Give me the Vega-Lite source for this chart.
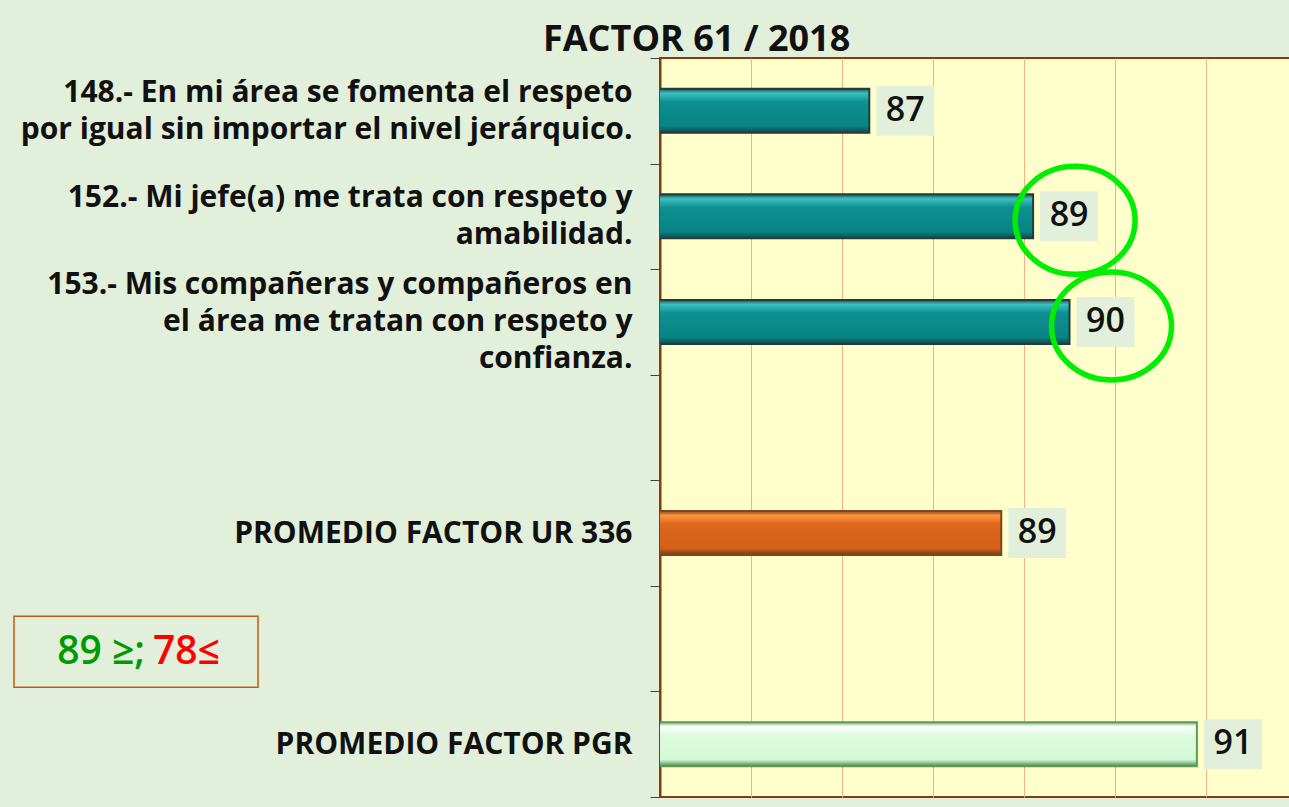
{
  "$schema": "https://vega.github.io/schema/vega-lite/v6.json",
  "width": 637,
  "height": 739,
  "autosize": {"type": "none"},
  "padding": {"left": 660, "top": 58, "right": 0, "bottom": 10},
  "background": "#e2efda",
  "title": {"text": "FACTOR 61 / 2018", "anchor": "start", "frame": "group", "dx": -117, "offset": -16, "fontSize": 36, "font": "Open Sans", "fontWeight": "bold", "color": "#111111"},
  "config": {"view": {"fill": "#ffffcc", "stroke": "#843c0c", "strokeWidth": 2}, "font": "Open Sans"},
  "data": {"values": [
    {"item": "148.- En mi área se fomenta el respeto|por igual sin importar el nivel jerárquico.", "value": 87.3, "group": "q", "marked": false},
    {"item": "152.- Mi jefe(a) me trata con respeto y|amabilidad.", "value": 89.1, "group": "q", "marked": true},
    {"item": "153.- Mis compañeras y compañeros en|el área me tratan con respeto y|confianza.", "value": 89.5, "group": "q", "marked": true},
    {"item": "PROMEDIO FACTOR UR 336", "value": 88.75, "group": "ur", "marked": false},
    {"item": "PROMEDIO FACTOR PGR", "value": 90.9, "group": "pgr", "marked": false}
  ]},
  "encoding": {
    "x": {"field": "value", "type": "quantitative", "scale": {"domain": [85, 92], "nice": false, "zero": false},
      "axis": {"title": null, "labels": false, "ticks": false, "domain": false, "grid": true, "gridColor": "#f4b183", "gridWidth": 1, "values": [85, 86, 87, 88, 89, 90, 91, 92]}},
    "y": {"field": "item", "type": "nominal", "sort": null,
      "scale": {"domain": [
        "148.- En mi área se fomenta el respeto|por igual sin importar el nivel jerárquico.",
        "152.- Mi jefe(a) me trata con respeto y|amabilidad.",
        "153.- Mis compañeras y compañeros en|el área me tratan con respeto y|confianza.",
        "b1",
        "PROMEDIO FACTOR UR 336",
        "b2",
        "PROMEDIO FACTOR PGR"], "paddingInner": 0, "paddingOuter": 0},
      "axis": {"title": null,
        "labelExpr": "indexof(datum.label,'|')>=0 ? split(datum.label,'|') : ((datum.label=='b1'||datum.label=='b2') ? '' : datum.label)",
        "labelFont": "Open Sans", "labelFontSize": 30, "labelFontWeight": "bold", "labelColor": "#111111", "labelLineHeight": 37, "labelLimit": 700,
        "labelAlign": "right", "labelPadding": 18,
        "labelBaseline": "middle",
        "labelOffset": {"condition": [
          {"test": "length(split(datum.value,'|'))==3", "value": -37},
          {"test": "length(split(datum.value,'|'))==2", "value": -18.5}], "value": 0},
        "tickBand": "extent", "tickSize": 10, "tickColor": "#404040", "tickWidth": 1,
        "domainColor": "#843c0c", "domainWidth": 2}}
  },
  "layer": [
    {"transform": [{"filter": "datum.group=='q'"}],
     "mark": {"type": "bar", "height": 44, "clip": true, "stroke": "#203c3c", "strokeWidth": 2,
       "color": {"gradient": "linear", "x1": 0, "y1": 0, "x2": 0, "y2": 1, "stops": [
         {"offset": 0, "color": "#24504f"}, {"offset": 0.1, "color": "#3cc0c0"}, {"offset": 0.3, "color": "#0e9090"},
         {"offset": 0.85, "color": "#078484"}, {"offset": 1, "color": "#1b4444"}]}}},
    {"transform": [{"filter": "datum.group=='ur'"}],
     "mark": {"type": "bar", "height": 44, "clip": true, "stroke": "#7a4522", "strokeWidth": 2,
       "color": {"gradient": "linear", "x1": 0, "y1": 0, "x2": 0, "y2": 1, "stops": [
         {"offset": 0, "color": "#8a4a1e"}, {"offset": 0.1, "color": "#ff9440"}, {"offset": 0.3, "color": "#dc661c"},
         {"offset": 0.85, "color": "#d4601a"}, {"offset": 1, "color": "#6e3a18"}]}}},
    {"transform": [{"filter": "datum.group=='pgr'"}],
     "mark": {"type": "bar", "height": 44, "clip": true, "stroke": "#5a9a5a", "strokeWidth": 2,
       "color": {"gradient": "linear", "x1": 0, "y1": 0, "x2": 0, "y2": 1, "stops": [
         {"offset": 0, "color": "#78b878"}, {"offset": 0.1, "color": "#ffffff"}, {"offset": 0.3, "color": "#dcfcdc"},
         {"offset": 0.85, "color": "#d4f8d4"}, {"offset": 1, "color": "#4e8a4e"}]}}},
    {"mark": {"type": "point", "shape": "M-1,-0.862H1V0.862H-1Z", "size": 3364, "filled": true, "fill": "#e2efda", "opacity": 1, "strokeWidth": 0, "xOffset": 36}},
    {"mark": {"type": "text", "xOffset": 36, "fontSize": 34, "fontWeight": 600, "font": "Open Sans", "color": "#111111", "align": "center", "baseline": "middle"},
     "encoding": {"text": {"field": "value", "type": "quantitative", "format": ".0f"}}},
    {"transform": [{"filter": "datum.marked"}],
     "mark": {"type": "point", "shape": "M-1,0A1,0.9,0,1,0,1,0A1,0.9,0,1,0,-1,0Z", "size": 14400, "filled": false, "stroke": "#00ee00", "strokeWidth": 5.5, "opacity": 1, "xOffset": 42, "yOffset": 4}},
    {"data": {"values": [{"item": "b2", "value": 85, "low": "89 ≥;", "high": "78≤"}]},
     "layer": [
       {"mark": {"type": "point", "shape": "M-1,-0.291H1V0.291H-1Z", "size": 59536, "filled": false, "stroke": "#c55a11", "strokeWidth": 1.5, "opacity": 1, "xOffset": -524, "yOffset": 13}},
       {"mark": {"type": "text", "align": "right", "baseline": "middle", "fontSize": 39, "font": "Open Sans", "fontWeight": 600, "color": "#009a00", "xOffset": -515, "yOffset": 13},
        "encoding": {"text": {"field": "low"}}},
       {"mark": {"type": "text", "align": "left", "baseline": "middle", "fontSize": 39, "font": "Open Sans", "fontWeight": 600, "color": "#ff0000", "xOffset": -507, "yOffset": 13},
        "encoding": {"text": {"field": "high"}}}
     ]}
  ]
}
